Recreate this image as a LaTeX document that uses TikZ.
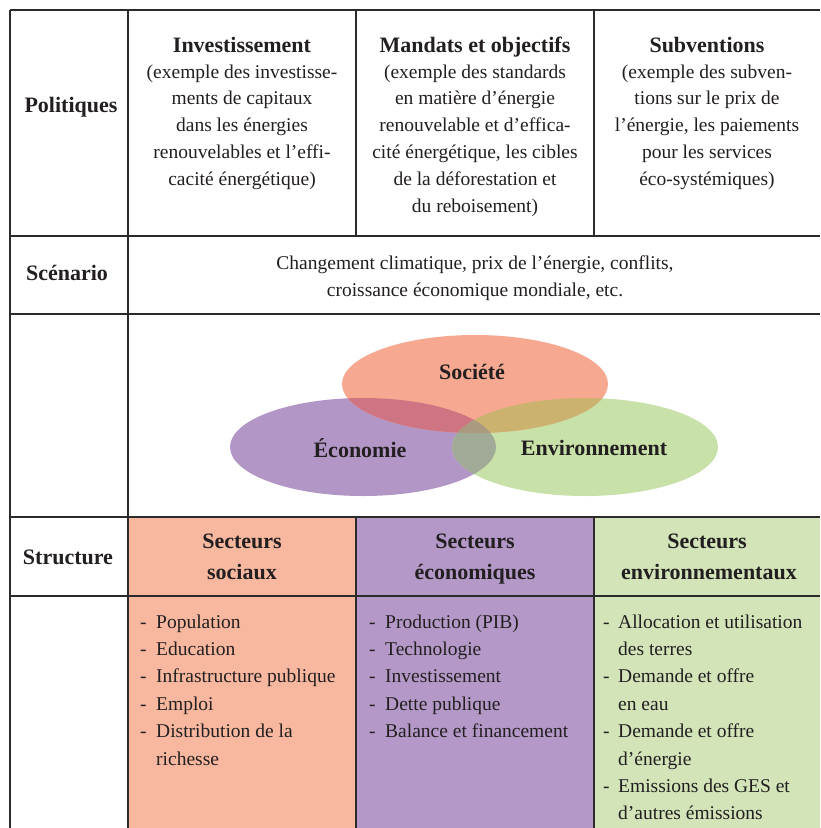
\documentclass[tikz,border=0pt]{standalone}
\usepackage{fontspec}
\setmainfont{Liberation Serif}
\definecolor{txt}{HTML}{231F20}
\definecolor{linec}{HTML}{2B2B2B}
\definecolor{soc}{HTML}{F6A891}
\definecolor{eco}{HTML}{B296C6}
\definecolor{env}{HTML}{C8E1A8}
\definecolor{se}{HTML}{CE7482}
\definecolor{sv}{HTML}{CBB36F}
\definecolor{ev}{HTML}{A0AA96}
\definecolor{sev}{HTML}{A99A80}
\definecolor{cellred}{HTML}{F8B8A0}
\definecolor{cellpur}{HTML}{B499C8}
\definecolor{cellgrn}{HTML}{D2E4B8}
\tikzset{
  body/.style={font=\fontsize{19.5}{27}\selectfont, inner sep=0pt, text=txt},
  head/.style={font=\bfseries\fontsize{22}{30}\selectfont, inner sep=0pt, text=txt},
  gridline/.style={line width=2pt, draw=linec},
  ell/.style={x radius=133pt, y radius=49pt},
}
\begin{document}
\begin{tikzpicture}[x=1pt,y=-1pt]
\useasboundingbox[fill=white] (0,0) rectangle (820,828);
% coloured cells
\fill[cellred] (128,517) rectangle (356,828);
\fill[cellpur] (356,517) rectangle (594,828);
\fill[cellgrn] (594,517) rectangle (820,828);
% grid
\draw[gridline] (10,10) -- (820,10);
\draw[gridline] (10,10) -- (10,828);
\draw[gridline] (128,10) -- (128,828);
\draw[gridline] (356,10) -- (356,236);
\draw[gridline] (594,10) -- (594,236);
\draw[gridline] (356,517) -- (356,828);
\draw[gridline] (594,517) -- (594,828);
\foreach \yy in {236,314,517,596} \draw[gridline] (10,\yy) -- (820,\yy);
% row labels
\node[head,anchor=base] (pol) at (71,112) {Politiques};
\node[head,anchor=base] (sce) at (67,280) {Scénario};
\node[head,anchor=base] (str) at (68,564) {Structure};
% policy columns
\node[head,anchor=base] (h1) at (242,52.5) {Investissement};
\foreach [count=\i from 0] \t in {{(exemple des investisse-},{ments de capitaux},{dans les énergies},{renouvelables et l'effi-},{cacité énergétique)}}
  \node[body,anchor=base] (a\i) at (242,{78+26.9*\i}) {\t};
\node[head,anchor=base] (h2) at (475,52.5) {Mandats et objectifs};
\foreach [count=\i from 0] \t in {{(exemple des standards},{en matière d'énergie},{renouvelable et d'effica-},{cité énergétique, les cibles},{de la déforestation et},{du reboisement)}}
  \node[body,anchor=base] (b\i) at (475,{78+26.9*\i}) {\t};
\node[head,anchor=base] (h3) at (707,52.5) {Subventions};
\foreach [count=\i from 0] \t in {{(exemple des subven-},{tions sur le prix de},{l'énergie, les paiements},{pour les services},{éco-systémiques)}}
  \node[body,anchor=base] (c\i) at (707,{78+26.9*\i}) {\t};
% scenario
\node[body,anchor=base] (sc1) at (475,269) {Changement climatique, prix de l'énergie, conflits,};
\node[body,anchor=base] (sc2) at (475,296) {croissance économique mondiale, etc.};
% Venn
\fill[eco] (363,447) ellipse [ell];
\fill[env] (585,447) ellipse [ell];
\fill[soc] (475,384) ellipse [ell];
\begin{scope}\clip (475,384) ellipse [ell]; \fill[se] (363,447) ellipse [ell]; \end{scope}
\begin{scope}\clip (475,384) ellipse [ell]; \fill[sv] (585,447) ellipse [ell]; \end{scope}
\begin{scope}\clip (363,447) ellipse [ell]; \fill[ev] (585,447) ellipse [ell]; \end{scope}
\begin{scope}\clip (475,384) ellipse [ell]; \clip (363,447) ellipse [ell]; \fill[sev] (585,447) ellipse [ell]; \end{scope}
\node[head,anchor=base] (vs) at (472,379) {Société};
\node[head,anchor=base] (ve) at (360,457) {Économie};
\node[head,anchor=base] (vn) at (594,455) {Environnement};
% structure headings
\node[head,anchor=base] (s1a) at (242,548) {Secteurs};
\node[head,anchor=base] (s1b) at (242,579) {sociaux};
\node[head,anchor=base] (s2a) at (475,548) {Secteurs};
\node[head,anchor=base] (s2b) at (475,579) {économiques};
\node[head,anchor=base] (s3a) at (707,548) {Secteurs};
\node[head,anchor=base] (s3b) at (709,579) {environnementaux};
% lists
\foreach [count=\i from 0] \d/\t in {1/Population,1/Education,1/Infrastructure publique,1/Emploi,1/Distribution de la,0/richesse}{
  \node[body,anchor=base west] (la\i) at (156,{628+27.4*\i}) {\t};
  \ifnum\d=1 \node[body,anchor=base west] (da\i) at (140,{628+27.4*\i}) {-}; \fi
}
\foreach [count=\i from 0] \d/\t in {1/Production (PIB),1/Technologie,1/Investissement,1/Dette publique,1/Balance et financement}{
  \node[body,anchor=base west] (lb\i) at (385,{628+27.4*\i}) {\t};
  \ifnum\d=1 \node[body,anchor=base west] (db\i) at (369,{628+27.4*\i}) {-}; \fi
}
\foreach [count=\i from 0] \d/\t in {1/Allocation et utilisation,0/des terres,1/Demande et offre,0/en eau,1/Demande et offre,0/d'énergie,1/Emissions des GES et,0/d'autres émissions}{
  \node[body,anchor=base west] (lc\i) at (618,{628+27.4*\i}) {\t};
  \ifnum\d=1 \node[body,anchor=base west] (dc\i) at (603,{628+27.4*\i}) {-}; \fi
}
\end{tikzpicture}
\end{document}
